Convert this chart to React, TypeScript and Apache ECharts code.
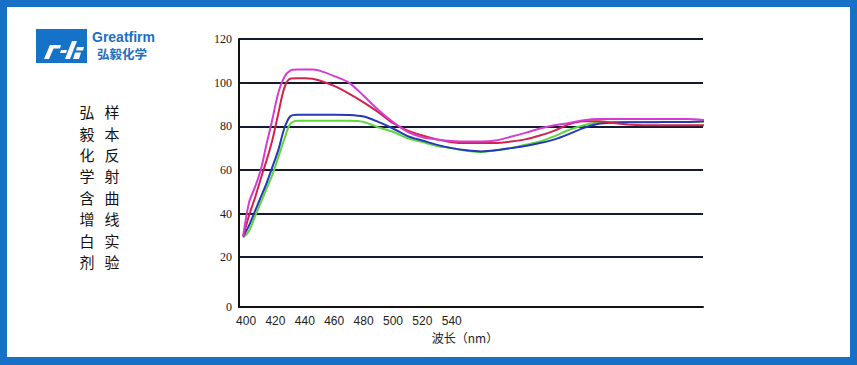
import React, { useEffect, useRef } from "react";
import * as echarts from "echarts";

const wavelengths = [398, 402, 406, 410, 414, 418, 422, 426, 430, 435, 440, 445, 450, 460, 470, 480, 490, 500, 510, 520, 530, 540, 550, 560, 570, 580, 590, 600, 610, 620, 630, 640, 650, 660, 670, 680, 690, 700, 713];

const magentaValues = [29.5, 45, 52, 60, 72, 83.5, 95.5, 102.5, 105.5, 106, 106, 106, 105.5, 103, 100, 94, 87.5, 82, 77.5, 75, 74, 73.3, 73, 73, 73.5, 75.2, 77, 79, 80.5, 81.5, 82.8, 83.3, 83.3, 83.3, 83.3, 83.3, 83.3, 83.3, 82.8];
const redValues = [29.5, 39, 47, 56, 64.5, 74, 86, 97.5, 101.8, 102, 102, 101.8, 101, 98.5, 95, 91, 86.5, 81.5, 78, 75.8, 74, 72.7, 72.3, 72.3, 72.3, 73, 74, 75.8, 78, 81, 82.3, 82.3, 81.5, 80.8, 80.5, 80.5, 80.5, 80.5, 80.5];
const blueValues = [29.5, 34.5, 41, 47.5, 54, 61.5, 69.2, 79, 84.5, 85.3, 85.3, 85.3, 85.3, 85.3, 85.2, 84.5, 82, 79, 75.5, 73.5, 71.5, 70, 69, 68.5, 69, 70, 71, 72.3, 74, 76.5, 79.3, 81.2, 81.7, 81.8, 81.8, 81.9, 82, 82, 82.5];
const greenValues = [29, 32, 38.5, 45, 51.5, 58, 66, 74, 81, 82.5, 82.5, 82.5, 82.5, 82.5, 82.5, 82, 79.5, 77.5, 74.5, 72.8, 71, 70, 68.8, 68.2, 69, 70, 71.5, 73, 75.5, 78.4, 80.5, 81.7, 82, 82, 82, 82, 82, 82, 82];

const xTickLabels = [400, 420, 440, 460, 480, 500, 520, 540];
const yTickValues = [-2.8, 20, 40, 60, 80, 100, 120];
const titleColumnA = ["弘", "毅", "化", "学", "含", "增", "白", "剂"];
const titleColumnB = ["样", "本", "反", "射", "曲", "线", "实", "验"];

const FRAME = "#1570c6";

function pairs(vals: number[]) {
  return wavelengths.map((w, i) => [w, vals[i]]);
}

function columnTexts(chars: string[], cx: number) {
  return chars.map((ch, i) => ({
    type: "text",
    x: cx,
    y: 111.7 + i * 21.4,
    style: {
      text: ch,
      fill: "#111",
      font: "15px 'Noto Sans CJK SC', sans-serif",
      lineHeight: 16,
      textAlign: "center",
      textVerticalAlign: "middle",
    },
  }));
}

export default function App() {
  const ref = useRef<HTMLDivElement>(null);
  useEffect(() => {
    if (!ref.current) return;
    const chart = echarts.init(ref.current, null, { renderer: "svg" });
    const mkSeries = (name: string, vals: number[], color: string) => ({
      name,
      type: "line",
      data: pairs(vals),
      smooth: 0.3,
      showSymbol: false,
      symbol: "none",
      clip: false,
      lineStyle: { color, width: 2 },
    });
    chart.setOption({
      animation: false,
      backgroundColor: "#ffffff",
      grid: { left: 239, right: 154, top: 39, bottom: 58 },
      xAxis: {
        type: "value",
        min: 395.2,
        max: 711,
        axisLine: { show: true, onZero: false, lineStyle: { color: "#111", width: 2 } },
        axisTick: { show: false, customValues: xTickLabels },
        splitLine: { show: false },
        axisLabel: {
          customValues: xTickLabels,
          color: "#222",
          fontSize: 12,
          fontFamily: "Liberation Sans, Arial, sans-serif",
          margin: 8,
        },
      },
      yAxis: {
        type: "value",
        min: -2.8,
        max: 120,
        axisLine: { show: true, onZero: false, lineStyle: { color: "#111", width: 2 } },
        axisTick: { show: false, customValues: yTickValues },
        splitLine: { show: true, lineStyle: { color: "#141a30", width: 2 } },
        axisLabel: {
          customValues: yTickValues,
          formatter: (v: number) => (v < 0 ? "0" : String(Math.round(v))),
          color: "#1a1a1a",
          fontSize: 12,
          fontFamily: "Liberation Serif, Times New Roman, serif",
          margin: 7,
        },
      },
      series: [
        mkSeries("green", greenValues, "#5cd83c"),
        mkSeries("blue", blueValues, "#2438b8"),
        mkSeries("red", redValues, "#d2234c"),
        mkSeries("magenta", magentaValues, "#d43cd4"),
      ],
      graphic: [
        { type: "rect", shape: { x: 0, y: 0, width: 857, height: 7 }, style: { fill: FRAME } },
        { type: "rect", shape: { x: 0, y: 357, width: 857, height: 8 }, style: { fill: FRAME } },
        { type: "rect", shape: { x: 0, y: 0, width: 7, height: 365 }, style: { fill: FRAME } },
        { type: "rect", shape: { x: 850, y: 0, width: 7, height: 365 }, style: { fill: FRAME } },
        { type: "rect", shape: { x: 36, y: 29, width: 51, height: 34 }, style: { fill: "#1473c8" } },
        { type: "polygon", shape: { points: [[44, 59], [49, 59], [55, 45], [50, 45]] }, style: { fill: "#fff" } },
        { type: "polygon", shape: { points: [[50, 45], [61, 45], [60, 48.5], [49, 48.5]] }, style: { fill: "#fff" } },
        { type: "polygon", shape: { points: [[61, 50], [67, 50], [66, 53], [60, 53]] }, style: { fill: "#fff" } },
        { type: "polygon", shape: { points: [[65, 59], [70, 59], [77, 41], [72, 41]] }, style: { fill: "#fff" } },
        { type: "polygon", shape: { points: [[77, 47], [84, 47], [83, 50.5], [76, 50.5]] }, style: { fill: "#fff" } },
        { type: "polygon", shape: { points: [[73, 59], [79, 59], [81, 52.5], [75, 52.5]] }, style: { fill: "#fff" } },
        {
          type: "text",
          x: 92,
          y: 36.5,
          style: {
            text: "Greatfirm",
            fill: "#1a6fc4",
            font: "bold 14px 'Liberation Sans', Arial, sans-serif",
            textAlign: "left",
            textVerticalAlign: "middle",
          },
        },
        {
          type: "text",
          x: 97,
          y: 53,
          style: {
            text: "弘毅化学",
            fill: "#1a6fc4",
            font: "bold 12.5px 'Noto Sans CJK SC', sans-serif",
            textAlign: "left",
            textVerticalAlign: "middle",
          },
        },
        ...columnTexts(titleColumnA, 87),
        ...columnTexts(titleColumnB, 112),
        {
          type: "text",
          x: 465,
          y: 337,
          style: {
            text: "波长（nm）",
            fill: "#222",
            font: "12px 'Noto Sans CJK SC', sans-serif",
            textAlign: "center",
            textVerticalAlign: "middle",
          },
        },
      ],
    });
    return () => chart.dispose();
  }, []);
  return (
    <div
      ref={ref}
      style={{ position: "fixed", left: 0, top: 0, width: 857, height: 365, background: "#fff" }}
    />
  );
}
